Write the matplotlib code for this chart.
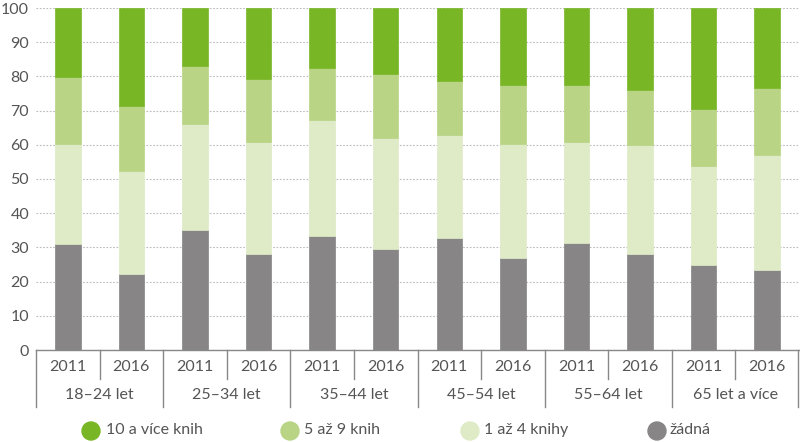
import matplotlib
matplotlib.use("Agg")
import matplotlib.pyplot as plt
from matplotlib.transforms import blended_transform_factory
import numpy as np

plt.rcParams['font.family'] = ['Lato', 'DejaVu Sans']

groups = ["18–24 let", "25–34 let", "35–44 let", "45–54 let", "55–64 let", "65 let a více"]
years = ["2011", "2016"]
series_names = ["žádná", "1 až 4 knihy", "5 až 9 knih", "10 a více knih"]
zadna = [31.0, 22.1, 35.1, 28.2, 33.3, 29.6, 32.8, 26.8, 31.4, 28.2, 24.9, 23.5]
k1_4 = [29.3, 30.2, 31.1, 32.5, 33.9, 32.5, 30.2, 33.5, 29.3, 31.6, 28.9, 33.5]
k5_9 = [19.5, 19.1, 16.8, 18.5, 15.3, 18.6, 15.8, 17.2, 16.8, 16.3, 16.6, 19.5]
k10 = [20.2, 28.6, 17.0, 20.8, 17.5, 19.3, 21.2, 22.5, 22.5, 23.9, 29.6, 23.5]
colors = ["#878586", "#deebc6", "#b8d484", "#79b626"]
yticks = [0, 10, 20, 30, 40, 50, 60, 70, 80, 90, 100]

W, H = 800, 442
FS = 11.5
TC = "#555555"
fig = plt.figure(figsize=(W / 100, H / 100), dpi=100)
ax = fig.add_axes([36 / W, 1 - 350 / H, 763 / W, (350 - 8) / H])

x = np.arange(len(zadna))
bottom = np.zeros(len(x))
for vals, c in zip([zadna, k1_4, k5_9, k10], colors):
    ax.bar(x, vals, width=0.4, bottom=bottom, color=c, edgecolor=c, linewidth=0.5, zorder=3)
    bottom += np.array(vals)

ax.set_xlim(-0.5, len(x) - 0.5)
ax.set_ylim(0, 100)
ax.set_yticks(yticks)
ax.set_yticklabels([str(t) for t in yticks], fontsize=FS, color=TC)
ax.tick_params(axis='y', length=0, pad=5)
ax.set_xticks([])
ax.yaxis.grid(True, linestyle=(0, (1.5, 1.5)), color="#bbbbbb", linewidth=0.8, zorder=0)
for s in ["left", "right", "top"]:
    ax.spines[s].set_visible(False)
ax.spines["bottom"].set_color("#888888")
ax.spines["bottom"].set_linewidth(1.0)

tr = blended_transform_factory(ax.transData, fig.transFigure)
def fy(px):
    return 1 - px / H

for i in range(len(x) + 1):
    xb = i - 0.5
    if xb >= len(x) - 0.5:
        xb = len(x) - 0.52
    yend = 407 if i % 2 == 0 else 379
    ax.plot([xb, xb], [fy(350), fy(yend)], transform=tr, color="#888888",
            linewidth=1.0, clip_on=False)

for i in range(len(x)):
    ax.text(i, fy(367), years[i % 2], transform=tr, ha="center", va="center",
            fontsize=FS, color=TC)
for g, name in enumerate(groups):
    ax.text(2 * g + 0.5, fy(395), name, transform=tr, ha="center", va="center",
            fontsize=FS, color=TC)

leg_items = [("10 a více knih", colors[3], 91, 106),
             ("5 až 9 knih", colors[2], 290, 304),
             ("1 až 4 knihy", colors[1], 470, 484),
             ("žádná", colors[0], 657, 670)]
for label, c, cx, tx in leg_items:
    fig.patches.append(matplotlib.patches.Ellipse((cx / W, fy(431)), 18 / W, 18 / H,
                                                  transform=fig.transFigure, color=c))
    fig.text(tx / W, fy(430), label, ha="left", va="center", fontsize=FS, color=TC)

fig.savefig("out.png", dpi=100)
